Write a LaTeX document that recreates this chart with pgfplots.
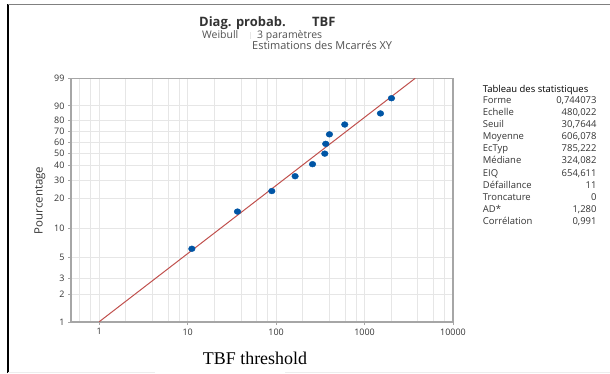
\documentclass[border=0pt]{standalone}
\usepackage{fontspec}
\setmainfont{Open Sans}
\newfontfamily\tnr{Liberation Serif}
\usepackage{pgfplots}
\pgfplotsset{compat=1.18}
\definecolor{gridc}{HTML}{E6E6E6}
\definecolor{axc}{HTML}{A6A6A6}
\definecolor{fitc}{HTML}{C0504D}
\definecolor{ptc}{HTML}{0055A5}
\definecolor{txt}{HTML}{333333}
\definecolor{sub}{HTML}{505050}
\begin{document}
\begin{tikzpicture}[x=1bp,y=1bp]
\useasboundingbox (0,0) rectangle (610,373);
% frame
\draw[black, line width=1.2bp] (8,0) -- (8,368.5);
\draw[gray, line width=1.5bp] (8,368.5) -- (610,368.5);
\draw[gridc!70, line width=1bp] (8,0.8) -- (155,0.8);
\draw[gridc!70, line width=1bp] (285,0.8) -- (610,0.8);
% titles
\node[anchor=base west, inner sep=0, text=txt] at (199,347) {\fontsize{13}{15}\selectfont\bfseries Diag. probab.};
\node[anchor=base west, inner sep=0, text=txt] at (312,347) {\fontsize{13}{15}\selectfont\bfseries TBF};
\node[anchor=base west, inner sep=0, text=sub] at (202,334.5) {\fontsize{10.5}{12}\selectfont Weibull};
\draw[gridc, line width=0.8bp] (250,334) -- (250,341);
\node[anchor=base west, inner sep=0, text=sub] at (257,334.5) {\fontsize{10.5}{12}\selectfont 3 paramètres};
\node[anchor=base west, inner sep=0, text=sub] at (252,323.5) {\fontsize{11}{13}\selectfont Estimations des Mcarrés XY};
% axis labels
\node[rotate=90, text=txt] at (40,172.5) {\fontsize{11.5}{13}\selectfont Pourcentage};
\node[anchor=base, inner sep=0, text=black] at (255,8.7) {\fontsize{18}{21}\selectfont\tnr TBF threshold};
% statistics table
\node[anchor=base west, inner sep=0, text=black] at (482.7,280.3) {\fontsize{9.5}{11}\selectfont Tableau des statistiques};
\foreach \lab/\val [count=\i from 0] in {Forme/{0,744073},Echelle/{480,022},Seuil/{30,7644},Moyenne/{606,078},EcTyp/{785,222},Médiane/{324,082},EIQ/{654,611},Défaillance/11,Troncature/0,AD*/{1,280},Corrélation/{0,991}}{
  \node[anchor=base west, inner sep=0, text=txt] at (482.7,{269.6-12.1*\i}) {\fontsize{9.5}{11}\selectfont \lab};
  \node[anchor=base east, inner sep=0, text=txt] at (596.7,{269.6-12.1*\i}) {\fontsize{9.5}{11}\selectfont \val};
}
\begin{axis}[
  at={(71bp,51bp)}, anchor=south west,
  scale only axis, width=382bp, height=243.7bp,
  xmode=log, xmin=0.48, xmax=10000,
  ymin=-4.60015, ymax=1.52718,
  xtick={1,10,100,1000,10000},
  xticklabels={1,10,100,1000,10000},
  minor xtick={0.6,0.8,2,4,6,8,20,40,60,80,200,400,600,800,2000,4000,6000,8000},
  ytick={-4.60015,-3.90194,-3.49137,-2.97020,-2.25037,-1.49994,-1.03093,-0.67173,-0.36651,-0.08742,0.18563,0.47588,0.83403,1.52718},
  yticklabels={1,2,3,5,10,20,30,40,50,60,70,80,90,99},
  xmajorgrids, xminorgrids, ymajorgrids,
  major grid style={gridc, line width=0.8bp},
  minor grid style={gridc, line width=0.8bp},
  axis line style={axc, line width=1.2bp},
  tick align=outside, tick pos=left,
  major tick length=3bp, minor tick length=0pt,
  tick style={axc, line width=0.8bp},
  ticklabel style={font=\fontsize{9}{10}\selectfont, text=txt},
  /pgf/number format/assume math mode=true,
]
\addplot[fitc, line width=1bp] coordinates {(1,-4.5938) (3737,1.52718)};
\addplot[only marks, mark=*, mark size=2.9bp, mark options={draw=ptc, fill=ptc, xscale=1.15}] coordinates {
(11.15,-2.759) (36.6,-1.824) (89.4,-1.308) (164,-0.935) (258,-0.632) (355,-0.367) (364,-0.121) (401,0.118) (597,0.365) (1513,0.644) (2014,1.026)};
\end{axis}
\end{tikzpicture}
\end{document}
